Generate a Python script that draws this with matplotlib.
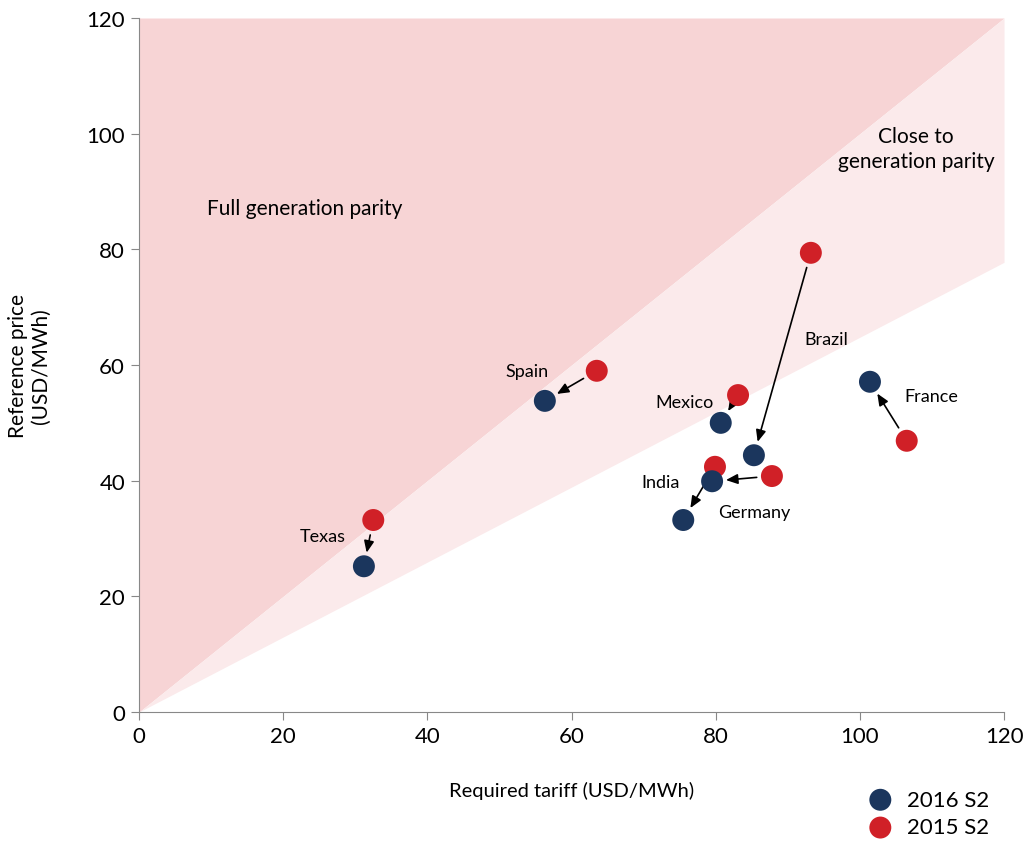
import matplotlib.pyplot as plt
import numpy as np

plt.rcParams['font.family'] = ['Lato', 'DejaVu Sans']

# data (USD/MWh)
countries = ["Texas", "Spain", "Mexico", "Brazil", "India", "Germany", "France"]
tariff_2016 = [31.2, 56.3, 80.7, 85.3, 75.5, 79.5, 101.4]
price_2016 = [25.2, 53.8, 50.0, 44.4, 33.2, 39.9, 57.1]
tariff_2015 = [32.5, 63.5, 83.1, 93.2, 79.9, 87.8, 106.5]
price_2015 = [33.2, 59.0, 54.8, 79.4, 42.4, 40.8, 46.9]

# label positions for each country
label_x = [25.5, 53.8, 75.7, 95.3, 72.3, 85.3, 109.9]
label_y = [30.4, 59.0, 53.6, 64.5, 39.8, 34.6, 54.6]

parity_slope = 1.0
near_parity_slope = 0.648

navy = "#1b365d"
red = "#d02027"

fig = plt.figure(figsize=(10.28, 8.45), dpi=100)
ax = fig.add_axes([0.1352, 0.1562, 0.9767 - 0.1352, 0.9775 - 0.1562])

xs = np.array([0, 120])
ax.fill_between(xs, parity_slope * xs, 120, color="#f7d4d5", lw=0, zorder=0)
ax.fill_between(xs, near_parity_slope * xs, parity_slope * xs, color="#fbeaeb", lw=0, zorder=0)

ax.text(23.0, 87.2, "Full generation parity", ha="center", va="center", fontsize=15)
ax.text(107.8, 97.4, "Close to\ngeneration parity", ha="center", va="center", fontsize=15,
        linespacing=1.3)

for i, name in enumerate(countries):
    ax.annotate("", xy=(tariff_2016[i], price_2016[i]), xytext=(tariff_2015[i], price_2015[i]),
                arrowprops=dict(arrowstyle="-|>,head_length=0.7,head_width=0.3", color="black",
                                lw=1.2, shrinkA=11, shrinkB=10), zorder=2)
    ax.text(label_x[i], label_y[i], name, ha="center", va="center", fontsize=13)

ax.scatter(tariff_2015, price_2015, s=250, color=red, edgecolor="none", zorder=3, label="2015 S2")
ax.scatter(tariff_2016, price_2016, s=250, color=navy, edgecolor="none", zorder=4, label="2016 S2")

ax.set_xlim(0, 120)
ax.set_ylim(0, 120)
ax.set_xticks(range(0, 121, 20))
ax.set_yticks(range(0, 121, 20))
ax.tick_params(axis="both", labelsize=16, color="#888888", length=6, direction="out", pad=4)
for side in ["top", "right"]:
    ax.spines[side].set_visible(False)
for side in ["left", "bottom"]:
    ax.spines[side].set_color("#888888")

ax.set_xlabel("Required tariff (USD/MWh)", fontsize=14.5)
ax.xaxis.set_label_coords(0.5, -0.1)
ax.set_ylabel("Reference price\n(USD/MWh)", fontsize=15)
ax.yaxis.set_label_coords(-0.102, 0.5)

handles, labels = ax.get_legend_handles_labels()
ax.legend(handles[::-1], labels[::-1], loc="upper right", bbox_to_anchor=(1.006, -0.083),
          frameon=False, fontsize=16, handletextpad=0.2, labelspacing=0.35, markerscale=1.0)

fig.savefig("out.png", dpi=100)
